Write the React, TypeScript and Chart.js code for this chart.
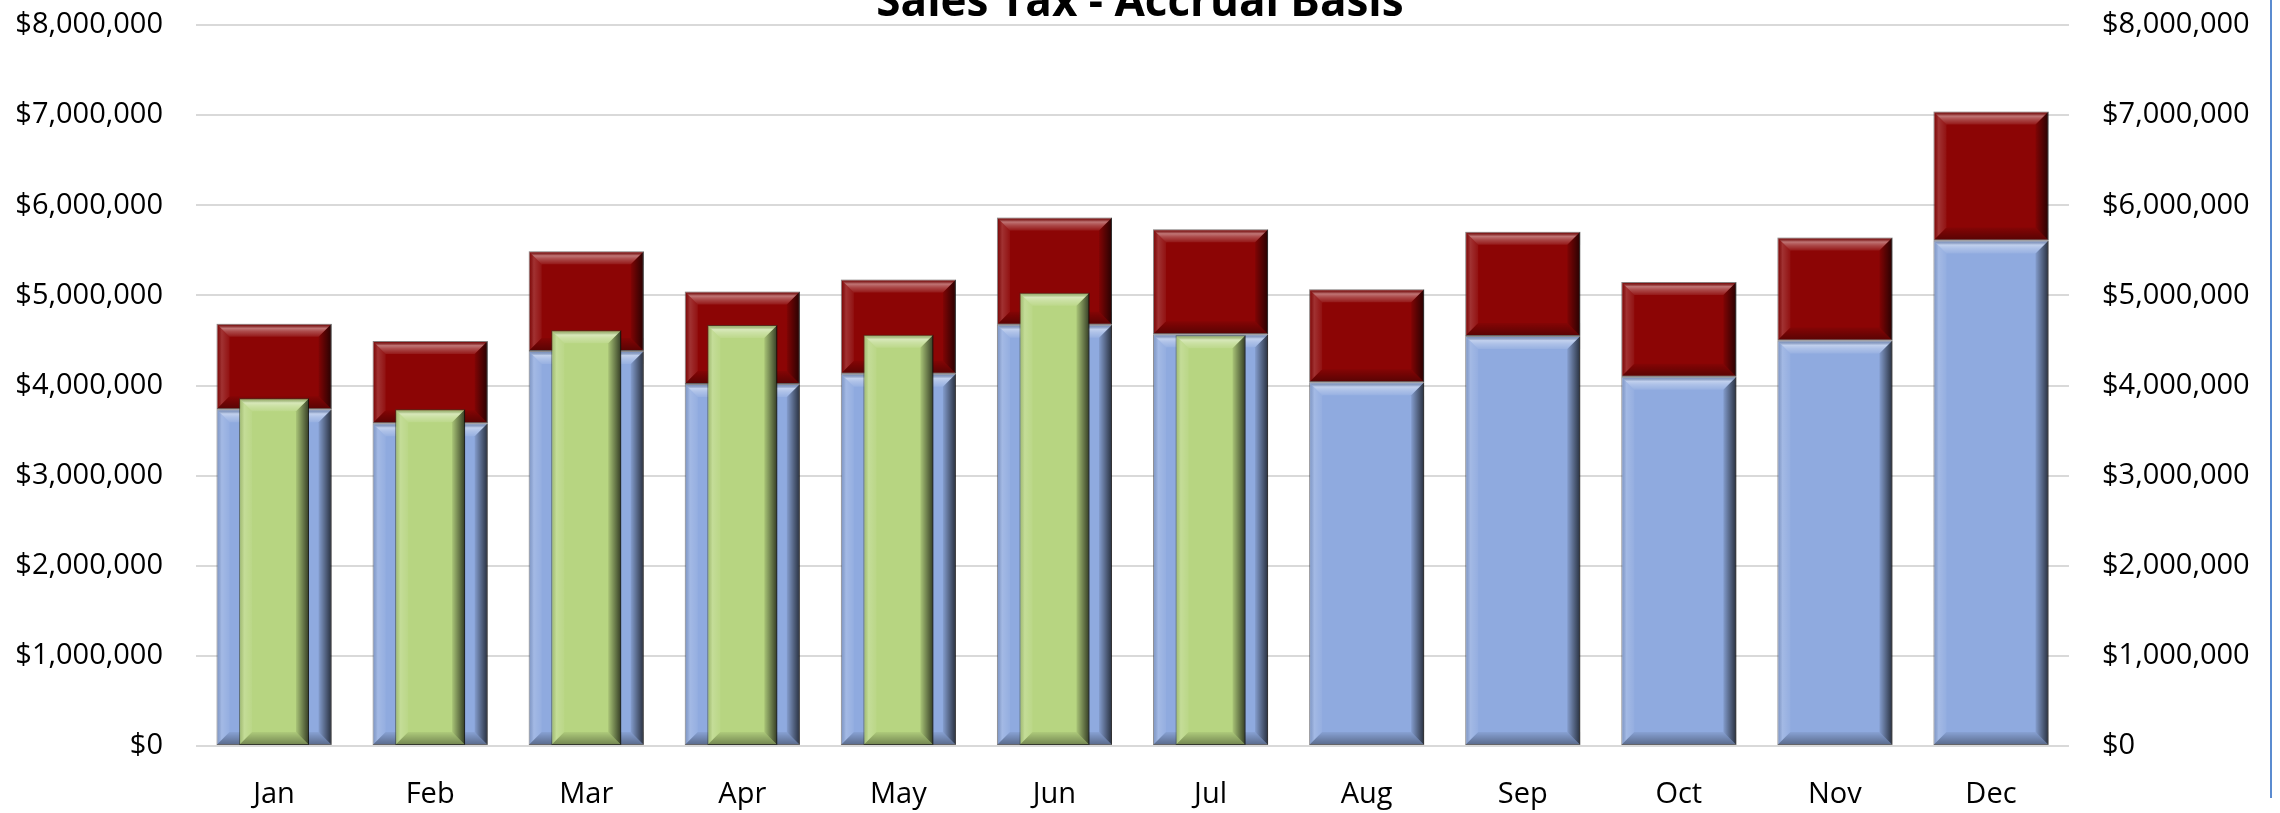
import React, { useEffect, useRef } from "react";
import { Chart, registerables } from "chart.js";

Chart.register(...registerables);

const months = ["Jan", "Feb", "Mar", "Apr", "May", "Jun", "Jul", "Aug", "Sep", "Oct", "Nov", "Dec"];
const baseTax = [3736000, 3581000, 4383000, 4017000, 4130000, 4675000, 4568000, 4035000, 4549000, 4098000, 4498000, 5610000];
const accruedTax = [950000, 912000, 1107000, 1027000, 1047000, 1190000, 1167000, 1032000, 1157000, 1050000, 1145000, 1430000];
const collectedTax = [3858000, 3736000, 4612000, 4671000, 4564000, 5030000, 4557000, null, null, null, null, null];
const axisMin = 0;
const axisMax = 8000000;
const axisStep = 1000000;
const titleText = "Sales Tax - Accrual Basis";

const W = 2280;
const SHIFT = 40;
const H = 813 + SHIFT;
const FONT = "'Open Sans', 'Noto Sans', sans-serif";

const money = (v: number | string) => "$" + Number(v).toLocaleString("en-US");

const bevelPlugin = {
  id: "bevel",
  afterDatasetDraw(chart: any, args: any) {
    const meta = args.meta;
    const ctx: CanvasRenderingContext2D = chart.ctx;
    const area = chart.chartArea;
    ctx.save();
    ctx.beginPath();
    ctx.rect(area.left, area.top - 2, area.right - area.left, area.bottom - area.top + 4);
    ctx.clip();
    meta.data.forEach((el: any) => {
      if (el.skip) return;
      const p = el.getProps(["x", "y", "base", "width"], true);
      if (p.y == null || isNaN(p.y) || isNaN(p.base)) return;
      const l = p.x - p.width / 2;
      const r = p.x + p.width / 2;
      const t = Math.min(p.y, p.base);
      const b = Math.max(p.y, p.base);
      const h = b - t;
      if (h < 1) return;
      const s = Math.min(13, h / 2, p.width / 2);

      let g = ctx.createLinearGradient(l, 0, l + s, 0);
      g.addColorStop(0, "rgba(0,0,0,0.12)");
      g.addColorStop(0.4, "rgba(255,255,255,0.18)");
      g.addColorStop(1, "rgba(255,255,255,0.05)");
      ctx.fillStyle = g;
      ctx.beginPath();
      ctx.moveTo(l, t);
      ctx.lineTo(l + s, t + s);
      ctx.lineTo(l + s, b - s);
      ctx.lineTo(l, b);
      ctx.closePath();
      ctx.fill();

      g = ctx.createLinearGradient(r - s, 0, r, 0);
      g.addColorStop(0, "rgba(0,0,0,0.08)");
      g.addColorStop(1, "rgba(0,0,0,0.72)");
      ctx.fillStyle = g;
      ctx.beginPath();
      ctx.moveTo(r, t);
      ctx.lineTo(r - s, t + s);
      ctx.lineTo(r - s, b - s);
      ctx.lineTo(r, b);
      ctx.closePath();
      ctx.fill();

      g = ctx.createLinearGradient(0, t, 0, t + s);
      g.addColorStop(0, "rgba(0,0,0,0.12)");
      g.addColorStop(0.35, "rgba(255,255,255,0.45)");
      g.addColorStop(0.6, "rgba(255,255,255,0.28)");
      g.addColorStop(1, "rgba(255,255,255,0.08)");
      ctx.fillStyle = g;
      ctx.beginPath();
      ctx.moveTo(l, t);
      ctx.lineTo(r, t);
      ctx.lineTo(r - s, t + s);
      ctx.lineTo(l + s, t + s);
      ctx.closePath();
      ctx.fill();

      g = ctx.createLinearGradient(0, b - s, 0, b);
      g.addColorStop(0, "rgba(0,0,0,0.05)");
      g.addColorStop(1, "rgba(0,0,0,0.38)");
      ctx.fillStyle = g;
      ctx.beginPath();
      ctx.moveTo(l, b);
      ctx.lineTo(l + s, b - s);
      ctx.lineTo(r - s, b - s);
      ctx.lineTo(r, b);
      ctx.closePath();
      ctx.fill();
    });
    ctx.restore();
  },
};

const edgePlugin = {
  id: "edgeLine",
  afterDraw(chart: any) {
    const ctx: CanvasRenderingContext2D = chart.ctx;
    ctx.save();
    ctx.strokeStyle = "#5B8BD0";
    ctx.lineWidth = 2;
    ctx.beginPath();
    ctx.moveTo(2271, 0);
    ctx.lineTo(2271, SHIFT + 798);
    ctx.stroke();
    ctx.restore();
  },
};

export default function App() {
  const ref = useRef<HTMLCanvasElement | null>(null);

  useEffect(() => {
    if (!ref.current) return;
    const tickFont = { family: FONT, size: 29 };
    const chart = new Chart(ref.current, {
      type: "bar",
      data: {
        labels: months,
        datasets: [
          {
            label: "Collected",
            data: collectedTax,
            backgroundColor: "#B7D581",
            borderColor: "rgba(70,80,50,0.6)",
            borderWidth: 1,
            borderSkipped: false,
            stack: "g",
            grouped: false,
            barPercentage: 0.448,
            categoryPercentage: 1,
            order: 0,
          },
          {
            label: "Base",
            data: baseTax,
            backgroundColor: "#8FAADF",
            borderColor: "rgba(80,80,90,0.55)",
            borderWidth: 1,
            borderSkipped: false,
            stack: "a",
            grouped: false,
            barPercentage: 0.737,
            categoryPercentage: 1,
            order: 1,
          },
          {
            label: "Accrued",
            data: accruedTax,
            backgroundColor: "#8C0505",
            borderColor: "rgba(90,80,80,0.6)",
            borderWidth: 1,
            borderSkipped: false,
            stack: "a",
            grouped: false,
            barPercentage: 0.737,
            categoryPercentage: 1,
            order: 2,
          },
        ],
      },
      options: {
        responsive: false,
        animation: false,
        devicePixelRatio: 1,
        layout: { padding: { left: 0, right: 0, top: 0, bottom: 1 } },
        plugins: {
          legend: { display: false },
          tooltip: { enabled: false },
          title: {
            display: true,
            text: titleText,
            color: "#000",
            font: { family: FONT, size: 44, weight: "bold", lineHeight: 1 },
            padding: { top: 21, bottom: 0 },
          },
        },
        scales: {
          x: {
            stacked: true,
            grid: { display: false, drawTicks: false },
            border: { display: false },
            ticks: { font: tickFont, color: "#000", padding: 31, maxRotation: 0, autoSkip: false },
            afterFit: (s: any) => {
              s.height = 66;
            },
          },
          y: {
            stacked: true,
            position: "left",
            min: axisMin,
            max: axisMax,
            ticks: { stepSize: axisStep, callback: (v: any) => money(v), font: tickFont, color: "#000", padding: 33 },
            grid: { color: "#D9D9D9", lineWidth: 2, drawTicks: false },
            border: { display: false },
            afterFit: (s: any) => {
              s.width = 196;
            },
          },
          y2: {
            position: "right",
            min: axisMin,
            max: axisMax,
            ticks: { stepSize: axisStep, callback: (v: any) => money(v), font: tickFont, color: "#000", padding: 33 },
            grid: { display: false, drawTicks: false },
            border: { display: false },
            afterFit: (s: any) => {
              s.width = 211;
            },
          },
        },
      } as any,
      plugins: [bevelPlugin, edgePlugin],
    });
    return () => chart.destroy();
  }, []);

  return (
    <div style={{ width: W, height: 813, overflow: "hidden", background: "#fff" }}>
      <style>{`html,body{margin:0;padding:0;background:#fff;}`}</style>
      <canvas ref={ref} width={W} height={H} style={{ display: "block", marginTop: -SHIFT, width: W, height: H }} />
    </div>
  );
}
